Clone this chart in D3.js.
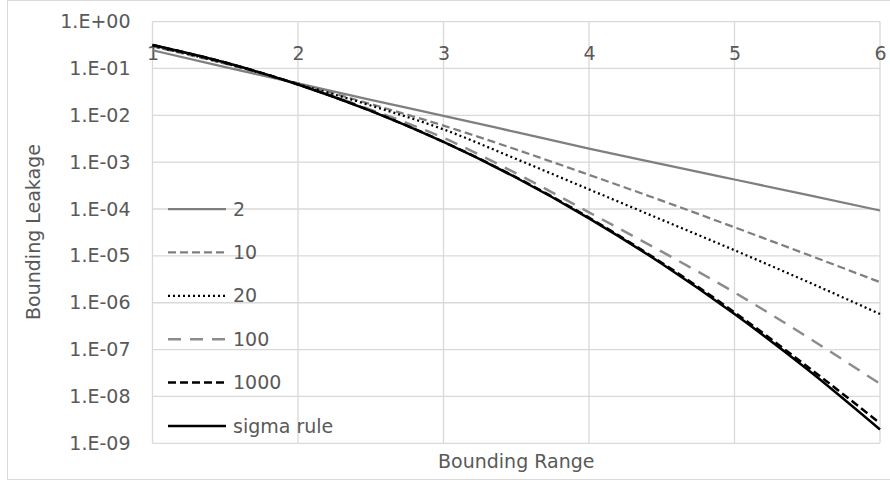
<!DOCTYPE html>
<html>
<head>
<meta charset="utf-8">
<script src="https://cdn.jsdelivr.net/npm/d3@7"></script>
<style>
  html, body { margin: 0; padding: 0; background: #fff; }
  svg { display: block; }
  text { font-family: "DejaVu Sans", sans-serif; fill: #595959; }
</style>
</head>
<body>
<svg id="chart" width="890" height="485"></svg>
<script>
// ---- data ----
const xValues = [1, 1.5, 2, 2.5, 3, 3.5, 4, 4.5, 5, 5.5, 6];

const series2     = [0.245, 0.107, 0.0479, 0.0214, 0.00977, 0.00437, 0.00195, 9.12e-4, 4.27e-4, 2.0e-4, 9.3e-5];
const series10    = [0.295, 0.126, 0.0479, 0.0174, 0.00603, 0.00186, 5.37e-4, 1.51e-4, 4.07e-5, 1.07e-5, 2.75e-6];
const series20    = [0.302, 0.129, 0.0468, 0.0162, 0.00501, 0.00117, 2.63e-4, 5.89e-5, 1.32e-5, 2.82e-6, 5.75e-7];
const series100   = [0.316, 0.133, 0.0457, 0.0132, 0.00331, 5.75e-4, 8.5e-5, 1.23e-5, 1.66e-6, 1.86e-7, 1.86e-8];
const series1000  = [0.316, 0.134, 0.0455, 0.01245, 0.00272, 4.73e-4, 6.53e-5, 7.16e-6, 6.24e-7, 4.37e-8, 2.69e-9];
const seriesSigma = [0.3173, 0.1336, 0.0455, 0.0124, 0.0027, 4.65e-4, 6.33e-5, 6.8e-6, 5.73e-7, 3.8e-8, 1.97e-9];

const seriesNames = ["2", "10", "20", "100", "1000", "sigma rule"];

const yTickValues = [1, 1e-1, 1e-2, 1e-3, 1e-4, 1e-5, 1e-6, 1e-7, 1e-8, 1e-9];
const yTickLabels = ["1.E+00", "1.E-01", "1.E-02", "1.E-03", "1.E-04", "1.E-05", "1.E-06", "1.E-07", "1.E-08", "1.E-09"];
const xTickValues = [1, 2, 3, 4, 5, 6];
const xTickLabels = ["1", "2", "3", "4", "5", "6"];

const xTitle = "Bounding Range";
const yTitle = "Bounding Leakage";

// ---- styles (kept apart from data) ----
const styles = [
  { color: "#7f7f7f", width: 2.25, dash: null },
  { color: "#7f7f7f", width: 2.25, dash: "8,4" },
  { color: "#000000", width: 2.25, dash: "2,3" },
  { color: "#8c8c8c", width: 2.5,  dash: "13,9" },
  { color: "#000000", width: 2.5,  dash: "8,4" },
  { color: "#000000", width: 2.5,  dash: null }
];

const allSeries = [series2, series10, series20, series100, series1000, seriesSigma];

const svg = d3.select("#chart");
const FS = 19;

// chart border
svg.append("rect")
  .attr("x", 7.5).attr("y", 0.5)
  .attr("width", 890).attr("height", 479)
  .attr("fill", "#fff").attr("stroke", "#d9d9d9").attr("stroke-width", 1);

const plot = { left: 152.5, right: 880, top: 21.6, bottom: 443.3 };

const x = d3.scaleLinear().domain([1, 6]).range([plot.left, plot.right]);
const y = d3.scaleLog().domain([1e-9, 1]).range([plot.bottom, plot.top]);

// gridlines
const grid = svg.append("g");
grid.selectAll("line.h").data(yTickValues).enter().append("line")
  .attr("x1", plot.left).attr("x2", plot.right)
  .attr("y1", d => y(d)).attr("y2", d => y(d))
  .attr("stroke", "#d9d9d9").attr("stroke-width", 1.3);
grid.selectAll("line.v").data(xTickValues).enter().append("line")
  .attr("y1", plot.top).attr("y2", plot.bottom)
  .attr("x1", d => x(d)).attr("x2", d => x(d))
  .attr("stroke", "#d9d9d9").attr("stroke-width", 1.3);

// y axis labels
const yAxis = d3.axisLeft(y)
  .tickValues(yTickValues)
  .tickFormat((d, i) => yTickLabels[i])
  .tickSize(0)
  .tickPadding(22);
const gy = svg.append("g").attr("transform", `translate(${plot.left},0)`).call(yAxis);
gy.select(".domain").remove();
gy.selectAll("text").attr("font-size", FS).style("font-family", "DejaVu Sans").attr("fill", "#595959");

// x axis labels (placed near top, as in reference)
const xAxis = d3.axisBottom(x)
  .tickValues(xTickValues)
  .tickFormat((d, i) => xTickLabels[i])
  .tickSize(0)
  .tickPadding(0);
const gx = svg.append("g").attr("transform", `translate(0,46)`).call(xAxis);
gx.select(".domain").remove();
gx.selectAll("text").attr("font-size", FS).style("font-family", "DejaVu Sans").attr("fill", "#595959");

// axis titles
svg.append("text")
  .attr("x", (plot.left + plot.right) / 2).attr("y", 468)
  .attr("text-anchor", "middle").attr("font-size", FS)
  .text(xTitle);
svg.append("text")
  .attr("transform", `translate(40,232) rotate(-90)`)
  .attr("text-anchor", "middle").attr("font-size", FS)
  .text(yTitle);

// lines
const line = d3.line()
  .x((d, i) => x(xValues[i]))
  .y(d => y(d))
  .curve(d3.curveMonotoneX);

allSeries.forEach((s, k) => {
  const st = styles[k];
  svg.append("path")
    .datum(s)
    .attr("d", line)
    .attr("fill", "none")
    .attr("stroke", st.color)
    .attr("stroke-width", st.width)
    .attr("stroke-dasharray", st.dash)
    .attr("stroke-linejoin", "round");
});

// legend
const legY0 = 209, legStep = 43.4;
const leg = svg.append("g");
seriesNames.forEach((name, k) => {
  const st = styles[k];
  const yy = legY0 + k * legStep;
  leg.append("line")
    .attr("x1", 168).attr("x2", 226)
    .attr("y1", yy).attr("y2", yy)
    .attr("stroke", st.color)
    .attr("stroke-width", st.width)
    .attr("stroke-dasharray", st.dash);
  leg.append("text")
    .attr("x", 233).attr("y", yy)
    .attr("dy", "0.35em")
    .attr("font-size", FS)
    .text(name);
});
</script>
</body>
</html>
